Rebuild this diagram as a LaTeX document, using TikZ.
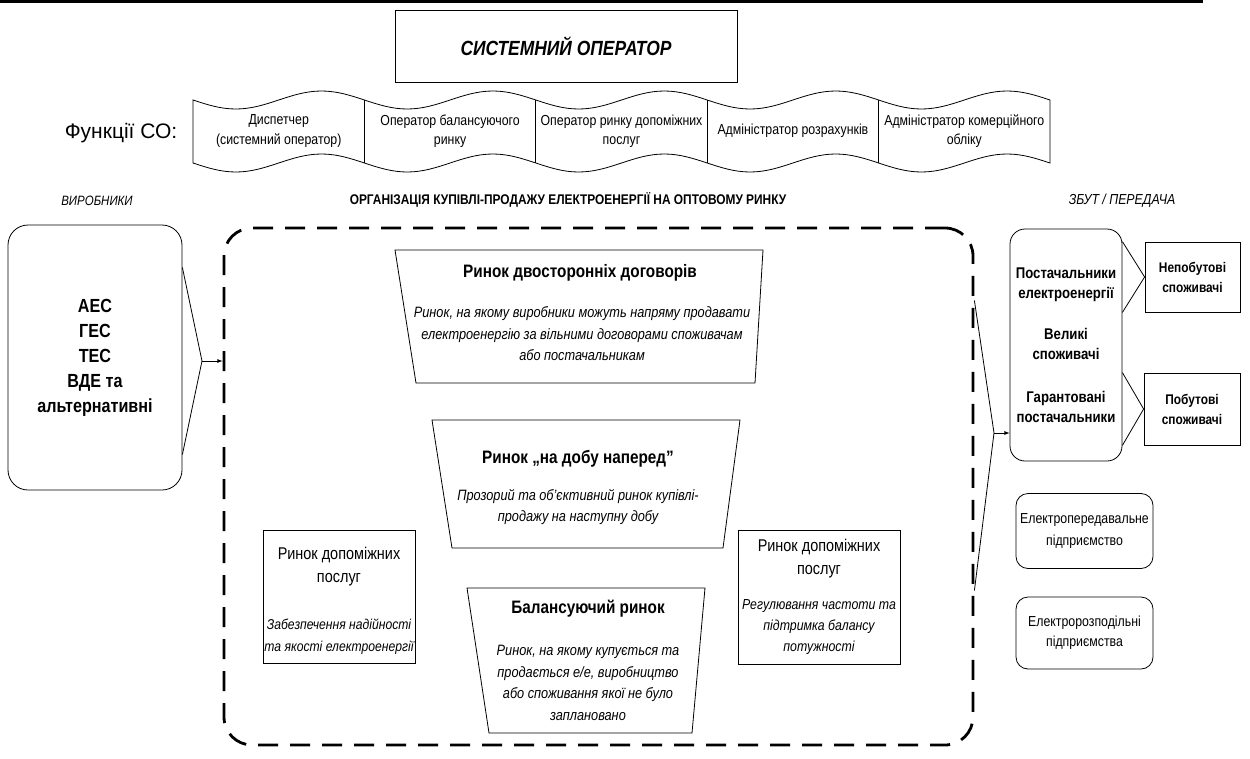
\documentclass[tikz,border=0pt]{standalone}
\usepackage{fontspec}
\setmainfont{Liberation Sans}[FakeStretch=0.85]
\newfontfamily\widefont{Liberation Sans}
\newcommand{\fsz}[2]{\fontsize{#1}{#2}\selectfont}

\begin{document}
\begin{tikzpicture}[x=1pt,y=-1pt,
		ln/.style={line width=0.8pt},
		plainbox/.style={draw,ln,inner sep=0pt,align=center},
		roundbox/.style={plainbox,rounded corners=#1},
		txt/.style={inner sep=0pt,align=center}]
		\useasboundingbox (0,0) rectangle (1250,758);
		\draw[line width=3pt] (0,1.5)--(1203,1.5);
		\node[plainbox,minimum width=342pt,minimum height=72pt,font={\fsz{20.5}{24}\bfseries\itshape}] (so) at (566,46) {СИСТЕМНИЙ ОПЕРАТОР};
		\node[txt,font={\widefont\fsz{21}{24}}] (fnlbl) at (121,133) {Функції СО:};
		\draw[ln] (193,100) \foreach \k in {1,...,5}{ sin ++(42.85,9) cos ++(42.85,-9) sin ++(42.85,-9) cos ++(42.85,9)} -- (1050,163) \foreach \k in {1,...,5}{ sin ++(-42.85,-9) cos ++(-42.85,9) sin ++(-42.85,9) cos ++(-42.85,-9)} -- cycle;
		\foreach \k in {1,...,4} \draw[ln] ({193+171.4*\k},100)--({193+171.4*\k},163);
		\foreach \t [count=\k] in {{Диспетчер\\(системний оператор)},{Оператор балансуючого\\ринку},{Оператор ринку допоміжних\\послуг},{Адміністратор розрахунків},{Адміністратор комерційного\\обліку}}
			\node[txt,font={\fsz{14.5}{19.5}}] (fn\k) at ({107.3+171.4*\k},131) {\t};
		\node[txt,font={\fsz{13.5}{15}\itshape}] (prod) at (97,201) {ВИРОБНИКИ};
		\node[txt,font={\fsz{14}{15}\bfseries}] (org) at (568,200) {ОРГАНІЗАЦІЯ КУПІВЛІ-ПРОДАЖУ ЕЛЕКТРОЕНЕРГІЇ НА ОПТОВОМУ РИНКУ};
		\node[txt,font={\fsz{14.5}{15}\itshape}] (sales) at (1122,201) {ЗБУТ / ПЕРЕДАЧА};
		\node[roundbox=20pt,minimum width=174pt,minimum height=265pt,font={\fsz{19}{25}\bfseries}] (gen) at (95,357.5) {АЕС\\ГЕС\\ТЕС\\ВДЕ та\\альтернативні};
		\node[draw,line width=2.8pt,dash pattern=on 20pt off 12pt,rounded corners=28pt,minimum width=749pt,minimum height=517pt,inner sep=0pt] (market) at (598.5,486.5) {};
		\coordinate (lt) at (202,361);
		\draw[ln] ([yshift=90pt]gen.east)--(lt)--([yshift=-97pt]gen.east);
		\draw[ln,-latex] (lt)--(lt -| market.west);
		\draw[ln] (395,250)--(763,250)--(755,383)--(416,383)--cycle;
		\node[txt,font={\fsz{18}{21}\bfseries}] (bil) at (580,273) {Ринок двосторонніх договорів};
		\node[txt,font={\fsz{15}{21.5}\itshape}] (biltxt) at (582,334) {Ринок, на якому виробники можуть напряму продавати\\електроенергію за вільними договорами споживачам\\або постачальникам};
		\draw[ln] (432,420)--(740,420)--(723,548)--(452,548)--cycle;
		\node[txt,font={\fsz{18}{21}\bfseries}] (dam) at (578,459) {Ринок „на добу наперед”};
		\node[txt,font={\fsz{15}{21.5}\itshape}] (damtxt) at (578,507) {Прозорий та об’єктивний ринок купівлі-\\продажу на наступну добу};
		\draw[ln] (467,588)--(705,588)--(692,733)--(489,733)--cycle;
		\node[txt,font={\fsz{18}{21}\bfseries}] (bal) at (588,609) {Балансуючий ринок};
		\node[txt,font={\fsz{15}{21.5}\itshape}] (baltxt) at (588,683) {Ринок, на якому купується та\\продається е/е, виробництво\\або споживання якої не було\\заплановано};
		\node[plainbox,minimum width=152pt,minimum height=133pt] (aux1) at (339,596.5) {};
		\node[txt,font={\fsz{17}{23}}] (aux1t) at (339,566.5) {Ринок допоміжних\\послуг};
		\node[txt,font={\fsz{14.3}{21.5}\itshape}] (aux1d) at (339,636.5) {Забезпечення надійності\\та якості електроенергії};
		\node[plainbox,minimum width=162pt,minimum height=134pt] (aux2) at (819,597) {};
		\node[txt,font={\fsz{17}{23}}] (aux2t) at (819,558.5) {Ринок допоміжних\\послуг};
		\node[txt,font={\fsz{14.5}{21}\itshape}] (aux2d) at (819,627) {Регулювання частоти та\\підтримка балансу\\потужності};
		\node[roundbox=15pt,minimum width=112pt,minimum height=232pt,font={\fsz{15.5}{20.5}\bfseries}] (sup) at (1066,345) {Постачальники\\електроенергії\\[20pt]Великі\\споживачі\\[22pt]Гарантовані\\постачальники};
		\node[plainbox,minimum width=95pt,minimum height=70pt,font={\fsz{14}{20}\bfseries}] (nonres) at (1192.5,277) {Непобутові\\споживачі};
		\node[plainbox,minimum width=96pt,minimum height=72pt,font={\fsz{14}{20}\bfseries}] (res) at (1192,409) {Побутові\\споживачі};
		\draw[ln] (sup.east |- nonres.north)--(nonres.west)--(sup.east |- nonres.south);
		\draw[ln] (sup.east |- res.north)--(res.west)--(sup.east |- res.south);
		\coordinate (rt) at (994,433);
		\draw[ln] ([yshift=186pt]market.east)--(rt)--([yshift=-104pt]market.east);
		\draw[ln,-latex] (rt)--(rt -| sup.west);
		\node[roundbox=12pt,minimum width=137pt,minimum height=75pt,font={\fsz{14.5}{22}}] (tso) at (1084.5,531) {Електропередавальне\\підприємство};
		\node[roundbox=12pt,minimum width=137pt,minimum height=72pt,font={\fsz{14.5}{20}}] (dso) at (1084.5,633) {Електророзподільні\\підприємства};
\end{tikzpicture}
\end{document}
